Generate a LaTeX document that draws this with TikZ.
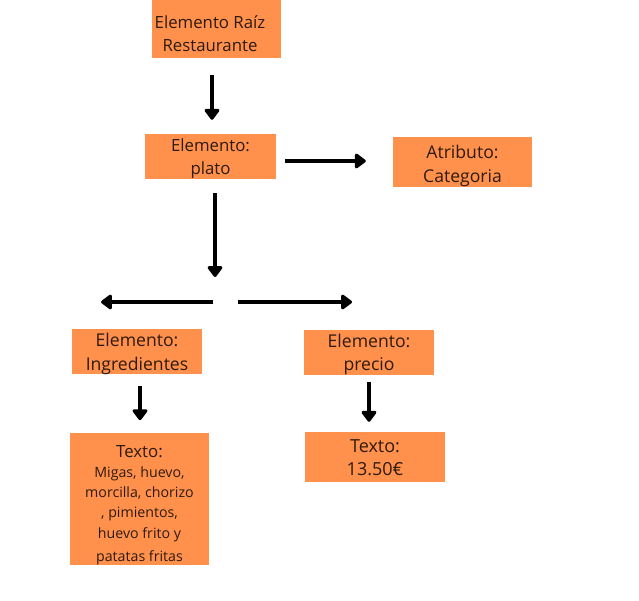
\documentclass[tikz,border=0pt]{standalone}
\usepackage{fontspec}
\setmainfont{Open Sans}
\usetikzlibrary{arrows.meta}
\definecolor{boxorange}{HTML}{FF914D}
\definecolor{ink}{HTML}{2E1A0E}
\newcommand{\listfont}{\fontsize{14.2}{20.2}\selectfont}
% invisible strut that sets the height of a first line
\newcommand{\headroom}[1]{\rule{0pt}{#1}}
\begin{document}
\begin{tikzpicture}[x=1pt,y=-1pt,
  box/.style={fill=boxorange, draw=none, inner sep=0pt, align=flush center,
    text=ink, font=\fontsize{16.8}{23}\selectfont},
  big/.style={font=\fontsize{17.6}{23.5}\selectfont},
  arrow/.style={line width=4pt, -{Triangle[round,length=12pt,width=17pt]}}]
  \useasboundingbox[fill=white] (0,0) rectangle (639,601);

  % boxes
  \node[box, minimum width=129pt, minimum height=58pt] (root) at (216.5,29)
    {\headroom{22.5pt}Elemento Raíz\kern13pt\\Restaurante\kern13pt};
  \node[box, minimum width=131pt, minimum height=45pt] (plato) at (210.5,156.5)
    {\headroom{16.8pt}Elemento:\\plato};
  \node[box, big, minimum width=139pt, minimum height=50pt] (cat) at (462.5,162)
    {\headroom{21pt}Atributo:\\Categoria};
  \node[box, big, minimum width=130pt, minimum height=43pt] (ingr) at (137,351.5)
    {\headroom{17.8pt}Elemento:\\Ingredientes};
  \node[box, big, minimum width=130pt, minimum height=43pt] (precio) at (369,352.5)
    {\headroom{17pt}Elemento:\\precio};
  \node[box, text width=139pt, minimum height=130pt] (txtA) at (139.5,499)
    {\headroom{24pt}Texto:\\\listfont Migas, huevo,\\morcilla, chorizo\\, pimientos,\\huevo frito y\\patatas fritas};
  \node[box, minimum width=140pt, minimum height=50pt,
        font=\fontsize{18}{23}\selectfont] (txtB) at (375,457)
    {\headroom{14pt}Texto:\\13.50€};

  % branching point below the plato element
  \coordinate (fork) at (215,302);
  \coordinate (forkL) at (101,302);
  \coordinate (forkR) at (352,302);

  % connectors
  \draw[arrow, shorten <=17pt, shorten >=14pt] ([xshift=-4.5pt]root.south) -- ([xshift=1.5pt]plato.north);
  \draw[arrow, shorten <=9pt, shorten >=27pt] ([yshift=-4.5pt]plato.east) -- ([yshift=1pt]cat.west);
  \draw[arrow, shorten <=14pt, shorten >=25pt] ([xshift=4.5pt]plato.south) -- (fork);
  \draw[arrow, shorten <=2pt] (fork) -- (forkL);
  \draw[arrow, shorten <=23pt] (fork) -- (forkR);
  \draw[arrow, shorten <=12pt, shorten >=13pt] ([xshift=3pt]ingr.south) -- ([xshift=0.5pt]txtA.north);
  \draw[arrow, shorten <=7pt, shorten >=10pt] (precio.south) -- ([xshift=-6pt]txtB.north);
\end{tikzpicture}
\end{document}
